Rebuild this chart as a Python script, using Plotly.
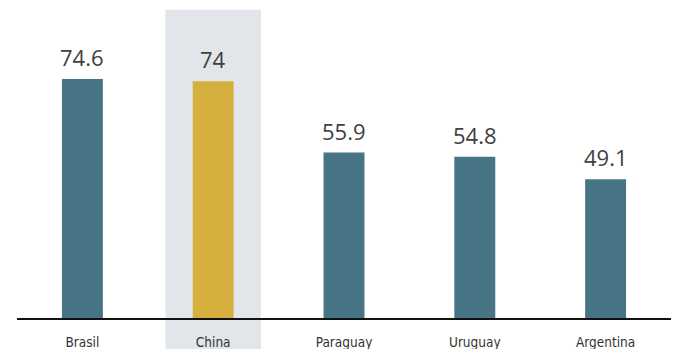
import plotly.graph_objects as go

categories = ["Brasil", "China", "Paraguay", "Uruguay", "Argentina"]
values = [74.6, 74, 55.9, 54.8, 49.1]
labels = ["74.6", "74", "55.9", "54.8", "49.1"]
highlight = "China"

teal = "#487585"
gold = "#d5b03e"
colors = [gold if c == highlight else teal for c in categories]

fig = go.Figure()
fig.add_trace(go.Bar(
    x=categories, y=values, marker=dict(color=colors, line=dict(width=0)),
    hoverinfo="skip",
))

for c, v, t in zip(categories, values, labels):
    fig.add_annotation(x=c, y=v, text=t, showarrow=False, yanchor="middle",
                       yshift=22, font=dict(family="Open Sans", size=22, color="#404040"))

hi = categories.index(highlight)
fig.add_shape(type="rect", xref="x", yref="paper", x0=hi - 0.365, x1=hi + 0.365,
              y0=-0.2, y1=0.969, fillcolor="#e2e6ea", line=dict(width=0), layer="below")

fig.update_layout(
    width=677, height=349,
    margin=dict(l=17, r=6, t=0, b=31),
    paper_bgcolor="white", plot_bgcolor="white",
    bargap=0.687,
    showlegend=False,
    xaxis=dict(showgrid=False, showline=True, linecolor="#111111", linewidth=1.5,
               ticks="", ticklabelstandoff=11,
               tickfont=dict(family="DejaVu Sans Condensed", size=13.5, color="#333333"),
               range=[-0.5, 4.5]),
    yaxis=dict(visible=False, range=[13.8, 94.7]),
)

fig.write_html("out.html", config={"displayModeBar": False},
               post_script="document.body.style.margin='0';")
